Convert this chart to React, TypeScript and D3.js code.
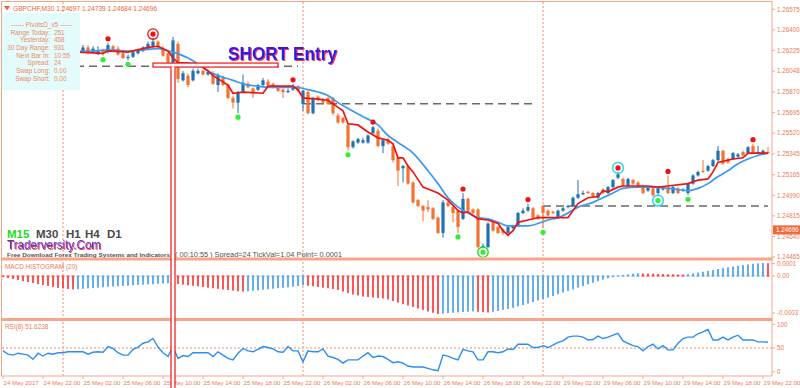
import React from "react";
import * as d3 from "d3";

// GBPCHF M30, one entry per candle: 24 May 18:00 ... 29 May 22:30
const open = [
  1.2621, 1.2624, 1.2621, 1.2625, 1.2627, 1.2623, 1.2620, 1.2622, 1.2626, 1.2623,
  1.2619, 1.2622, 1.2625, 1.2622, 1.2624, 1.2621, 1.2622, 1.2625, 1.2621, 1.2619,
  1.2622, 1.2621, 1.2626, 1.2624, 1.2620, 1.2616, 1.2617, 1.2620, 1.2622, 1.2624,
  1.2626, 1.2630, 1.2624, 1.2620, 1.2612, 1.2628, 1.2597, 1.2601, 1.2597, 1.2603,
  1.2605, 1.2602, 1.2603, 1.2593, 1.2599, 1.2593, 1.2582, 1.2578, 1.2587, 1.2594,
  1.2590, 1.2589, 1.2593, 1.2596, 1.2594, 1.2591, 1.2589, 1.2587, 1.2589, 1.2592,
  1.2577, 1.2587, 1.2569, 1.2583, 1.2581, 1.2582, 1.2582, 1.2567, 1.2565, 1.2559,
  1.2540, 1.2544, 1.2544, 1.2544, 1.2552, 1.2554, 1.2541, 1.2547, 1.2541, 1.2531,
  1.2522, 1.2524, 1.2510, 1.2495, 1.2490, 1.2489, 1.2488, 1.2480, 1.2467, 1.2493,
  1.2489, 1.2486, 1.2479, 1.2496, 1.2487, 1.2487, 1.2455, 1.2455, 1.2476, 1.2472,
  1.2470, 1.2467, 1.2471, 1.2473, 1.2484, 1.2486, 1.2488, 1.2482, 1.2490, 1.2486,
  1.2485, 1.2480, 1.2486, 1.2489, 1.2490, 1.2497, 1.2500, 1.2502, 1.2501, 1.2497,
  1.2504, 1.2501, 1.2506, 1.2514, 1.2513, 1.2507, 1.2512, 1.2510, 1.2507, 1.2503,
  1.2505, 1.2501, 1.2504, 1.2506, 1.2501, 1.2505, 1.2503, 1.2501, 1.2509, 1.2516,
  1.2520, 1.2520, 1.2524, 1.2529, 1.2537, 1.2530, 1.2530, 1.2532, 1.2536, 1.2535,
  1.2541, 1.2535, 1.2535, 1.2536,
];
const high = [
  1.2626, 1.2627, 1.2626, 1.2629, 1.2629, 1.2625, 1.2624, 1.2628, 1.2628, 1.2625,
  1.2624, 1.2627, 1.2627, 1.2626, 1.2626, 1.2627, 1.2627, 1.2627, 1.2626, 1.2626,
  1.2624, 1.2629, 1.2627, 1.2626, 1.2621, 1.2619, 1.2622, 1.2624, 1.2626, 1.2630,
  1.2633, 1.2631, 1.2626, 1.2621, 1.2634, 1.2630, 1.2605, 1.2603, 1.2607, 1.2607,
  1.2606, 1.2606, 1.2605, 1.2603, 1.2601, 1.2594, 1.2584, 1.2588, 1.2602, 1.2596,
  1.2591, 1.2594, 1.2599, 1.2598, 1.2595, 1.2592, 1.2590, 1.2590, 1.2594, 1.2593,
  1.2589, 1.2588, 1.2583, 1.2584, 1.2582, 1.2583, 1.2583, 1.2569, 1.2566, 1.2560,
  1.2546, 1.2548, 1.2548, 1.2551, 1.2558, 1.2556, 1.2547, 1.2548, 1.2543, 1.2532,
  1.2525, 1.2525, 1.2511, 1.2496, 1.2491, 1.2495, 1.2489, 1.2481, 1.2495, 1.2496,
  1.2490, 1.2487, 1.2501, 1.2497, 1.2488, 1.2488, 1.2458, 1.2476, 1.2477, 1.2473,
  1.2471, 1.2473, 1.2474, 1.2485, 1.2488, 1.2492, 1.2489, 1.2483, 1.2491, 1.2487,
  1.2486, 1.2487, 1.2489, 1.2491, 1.2498, 1.2512, 1.2503, 1.2503, 1.2502, 1.2502,
  1.2505, 1.2507, 1.2513, 1.2519, 1.2514, 1.2514, 1.2513, 1.2511, 1.2508, 1.2507,
  1.2506, 1.2506, 1.2507, 1.2516, 1.2507, 1.2506, 1.2505, 1.2510, 1.2517, 1.2520,
  1.2529, 1.2525, 1.2530, 1.2541, 1.2538, 1.2531, 1.2536, 1.2535, 1.2537, 1.2541,
  1.2543, 1.2541, 1.2538, 1.2540,
];
const low = [
  1.2619, 1.2620, 1.2620, 1.2623, 1.2622, 1.2618, 1.2617, 1.2621, 1.2621, 1.2617,
  1.2617, 1.2620, 1.2620, 1.2621, 1.2619, 1.2620, 1.2621, 1.2619, 1.2620, 1.2619,
  1.2618, 1.2620, 1.2621, 1.2618, 1.2615, 1.2614, 1.2616, 1.2619, 1.2621, 1.2623,
  1.2625, 1.2624, 1.2617, 1.2611, 1.2611, 1.2595, 1.2596, 1.2591, 1.2596, 1.2602,
  1.2601, 1.2601, 1.2593, 1.2587, 1.2592, 1.2581, 1.2573, 1.2569, 1.2586, 1.2590,
  1.2582, 1.2588, 1.2592, 1.2592, 1.2590, 1.2587, 1.2582, 1.2586, 1.2588, 1.2587,
  1.2571, 1.2568, 1.2568, 1.2579, 1.2577, 1.2576, 1.2567, 1.2560, 1.2560, 1.2537,
  1.2539, 1.2543, 1.2543, 1.2543, 1.2551, 1.2540, 1.2535, 1.2542, 1.2527, 1.2507,
  1.2510, 1.2508, 1.2492, 1.2489, 1.2477, 1.2485, 1.2478, 1.2466, 1.2463, 1.2489,
  1.2476, 1.2467, 1.2478, 1.2485, 1.2483, 1.2454, 1.2454, 1.2454, 1.2468, 1.2466,
  1.2465, 1.2466, 1.2470, 1.2472, 1.2483, 1.2485, 1.2479, 1.2478, 1.2471, 1.2481,
  1.2483, 1.2479, 1.2485, 1.2488, 1.2489, 1.2496, 1.2499, 1.2500, 1.2497, 1.2496,
  1.2500, 1.2500, 1.2505, 1.2513, 1.2506, 1.2506, 1.2508, 1.2506, 1.2500, 1.2502,
  1.2498, 1.2498, 1.2503, 1.2500, 1.2500, 1.2500, 1.2502, 1.2499, 1.2508, 1.2515,
  1.2518, 1.2519, 1.2523, 1.2528, 1.2525, 1.2526, 1.2529, 1.2531, 1.2532, 1.2534,
  1.2534, 1.2534, 1.2534, 1.2534,
];
const close = [
  1.2624, 1.2621, 1.2625, 1.2627, 1.2623, 1.2620, 1.2622, 1.2626, 1.2623, 1.2619,
  1.2622, 1.2625, 1.2622, 1.2624, 1.2621, 1.2625, 1.2625, 1.2621, 1.2624, 1.2622,
  1.2621, 1.2627, 1.2622, 1.2619, 1.2616, 1.2617, 1.2621, 1.2622, 1.2625, 1.2628,
  1.2630, 1.2625, 1.2618, 1.2612, 1.2631, 1.2598, 1.2603, 1.2593, 1.2605, 1.2605,
  1.2602, 1.2604, 1.2594, 1.2601, 1.2593, 1.2582, 1.2578, 1.2587, 1.2595, 1.2591,
  1.2587, 1.2593, 1.2597, 1.2593, 1.2591, 1.2588, 1.2587, 1.2588, 1.2592, 1.2588,
  1.2588, 1.2569, 1.2582, 1.2580, 1.2578, 1.2577, 1.2569, 1.2561, 1.2561, 1.2540,
  1.2545, 1.2547, 1.2546, 1.2550, 1.2557, 1.2541, 1.2546, 1.2543, 1.2529, 1.2520,
  1.2524, 1.2509, 1.2493, 1.2490, 1.2486, 1.2487, 1.2479, 1.2467, 1.2493, 1.2490,
  1.2484, 1.2472, 1.2496, 1.2486, 1.2484, 1.2455, 1.2456, 1.2475, 1.2469, 1.2467,
  1.2467, 1.2472, 1.2473, 1.2484, 1.2486, 1.2489, 1.2480, 1.2479, 1.2484, 1.2482,
  1.2484, 1.2486, 1.2488, 1.2490, 1.2497, 1.2500, 1.2501, 1.2501, 1.2498, 1.2501,
  1.2501, 1.2506, 1.2512, 1.2517, 1.2507, 1.2513, 1.2509, 1.2507, 1.2501, 1.2506,
  1.2499, 1.2505, 1.2506, 1.2501, 1.2506, 1.2501, 1.2504, 1.2509, 1.2516, 1.2519,
  1.2519, 1.2524, 1.2529, 1.2537, 1.2526, 1.2527, 1.2535, 1.2534, 1.2533, 1.2540,
  1.2535, 1.2536, 1.2537, 1.2535,
];

// red (fast) and blue (slow) moving averages, read at these bars
const redMaIdx = [
  15, 20, 21, 25, 29, 31, 33, 34, 35, 39, 41, 42, 45, 46, 48, 52, 53, 58, 59, 60,
  63, 65, 66, 67, 68, 69, 71, 73, 75, 77, 78, 79, 80, 81, 82, 84, 87, 89, 91, 92,
  93, 95, 97, 99, 100, 101, 102, 103, 105, 107, 113, 114, 115, 117, 119, 120, 121, 123, 124, 129,
  131, 133, 137, 139, 141, 142, 143, 146, 148, 149, 153,
];
const redMa = [
  1.2621, 1.2620, 1.2622, 1.2621, 1.2625, 1.2626, 1.2622, 1.2616, 1.2612, 1.2611,
  1.2605, 1.2601, 1.2593, 1.2586, 1.2587, 1.2586, 1.2592, 1.2592, 1.2589, 1.2582,
  1.2581, 1.2580, 1.2577, 1.2574, 1.2571, 1.2560, 1.2559, 1.2553, 1.2548, 1.2546,
  1.2543, 1.2531, 1.2531, 1.2524, 1.2519, 1.2506, 1.2501, 1.2495, 1.2486, 1.2484,
  1.2485, 1.2479, 1.2478, 1.2475, 1.2469, 1.2465, 1.2469, 1.2476, 1.2478, 1.2480,
  1.2480, 1.2486, 1.2492, 1.2497, 1.2498, 1.2503, 1.2502, 1.2506, 1.2507, 1.2507,
  1.2506, 1.2507, 1.2509, 1.2512, 1.2513, 1.2519, 1.2527, 1.2530, 1.2531, 1.2535,
  1.2535,
];
const blueMaIdx = [
  15, 18, 21, 25, 28, 31, 33, 34, 37, 39, 41, 43, 46, 48, 51, 53, 59, 60, 63, 65,
  67, 69, 72, 75, 77, 79, 82, 85, 87, 89, 91, 93, 95, 97, 99, 101, 105, 107, 109, 111,
  113, 115, 118, 120, 122, 124, 127, 130, 133, 135, 137, 139, 141, 143, 145, 147, 149, 151, 153,
];
const blueMa = [
  1.2622, 1.2622, 1.2623, 1.2622, 1.2623, 1.2624, 1.2622, 1.2621, 1.2616, 1.2611,
  1.2605, 1.2601, 1.2597, 1.2594, 1.2592, 1.2591, 1.2591, 1.2590, 1.2587, 1.2584,
  1.2578, 1.2573, 1.2566, 1.2559, 1.2550, 1.2544, 1.2535, 1.2520, 1.2509, 1.2497,
  1.2489, 1.2484, 1.2480, 1.2479, 1.2476, 1.2473, 1.2473, 1.2475, 1.2478, 1.2480,
  1.2484, 1.2489, 1.2493, 1.2497, 1.2501, 1.2505, 1.2506, 1.2506, 1.2505, 1.2504,
  1.2503, 1.2505, 1.2509, 1.2515, 1.2520, 1.2526, 1.2530, 1.2533, 1.2535,
];

const macd = [
  -0.08e-4, -0.16e-4, -0.24e-4, -0.32e-4, -0.41e-4, -0.49e-4, -0.57e-4, -0.65e-4, -0.73e-4, -0.81e-4,
  -0.89e-4, -0.97e-4, -1.01e-4, -1.05e-4, -1.09e-4, -1.07e-4, -1.04e-4, -1.0e-4, -0.97e-4, -0.94e-4,
  -0.91e-4, -0.87e-4, -0.85e-4, -0.83e-4, -0.8e-4, -0.78e-4, -0.75e-4, -0.73e-4, -0.7e-4, -0.68e-4,
  -0.66e-4, -0.63e-4, -0.61e-4, -0.58e-4, -0.61e-4, -0.65e-4, -0.7e-4, -0.75e-4, -0.79e-4, -0.84e-4,
  -0.89e-4, -0.94e-4, -0.99e-4, -1.04e-4, -1.09e-4, -1.13e-4, -1.18e-4, -1.23e-4, -1.26e-4, -1.23e-4,
  -1.19e-4, -1.15e-4, -1.11e-4, -1.07e-4, -1.03e-4, -0.99e-4, -0.95e-4, -0.91e-4, -0.86e-4, -0.81e-4,
  -0.76e-4, -0.79e-4, -0.84e-4, -0.89e-4, -0.94e-4, -0.99e-4, -1.05e-4, -1.13e-4, -1.26e-4, -1.38e-4,
  -1.5e-4, -1.58e-4, -1.66e-4, -1.7e-4, -1.74e-4, -1.78e-4, -1.82e-4, -1.9e-4, -2.03e-4, -2.15e-4,
  -2.27e-4, -2.39e-4, -2.51e-4, -2.63e-4, -2.75e-4, -2.88e-4, -2.98e-4, -3.08e-4, -3.05e-4, -3.01e-4,
  -2.98e-4, -2.95e-4, -2.92e-4, -2.89e-4, -2.87e-4, -2.9e-4, -2.93e-4, -2.96e-4, -2.9e-4, -2.84e-4,
  -2.75e-4, -2.67e-4, -2.58e-4, -2.47e-4, -2.35e-4, -2.23e-4, -2.11e-4, -1.98e-4, -1.86e-4, -1.74e-4,
  -1.62e-4, -1.48e-4, -1.34e-4, -1.22e-4, -1.08e-4, -0.94e-4, -0.81e-4, -0.68e-4, -0.55e-4, -0.42e-4,
  -0.29e-4, -0.18e-4, -0.08e-4, 0.02e-4, 0.08e-4, 0.13e-4, 0.18e-4, 0.23e-4, 0.21e-4, 0.2e-4,
  0.19e-4, 0.17e-4, 0.16e-4, 0.15e-4, 0.14e-4, 0.12e-4, 0.11e-4, 0.15e-4, 0.21e-4, 0.28e-4,
  0.35e-4, 0.42e-4, 0.49e-4, 0.57e-4, 0.64e-4, 0.71e-4, 0.78e-4, 0.83e-4, 0.89e-4, 0.94e-4,
  0.99e-4, 1.03e-4, 1.06e-4, 1.04e-4,
];

const rsi = [
  44, 37, 35, 39, 37, 35, 26, 39, 33, 39,
  37, 40, 40, 42, 42, 42, 42, 37, 41, 42,
  41, 53, 49, 40, 35, 35, 47, 52, 60, 63,
  70, 52, 40, 32, 53, 28, 34, 32, 40, 40,
  40, 40, 32, 42, 35, 28, 25, 39, 49, 44,
  42, 47, 53, 51, 48, 42, 41, 53, 44, 44,
  21, 44, 42, 42, 48, 33, 30, 26, 18, 25,
  25, 25, 33, 40, 30, 33, 32, 26, 19, 21,
  18, 12, 10, 10, 10, 7, 4, 2, 35, 33,
  28, 25, 47, 44, 42, 25, 25, 42, 42, 40,
  42, 48, 47, 58, 58, 58, 51, 51, 55, 51,
  56, 62, 65, 73, 75, 75, 73, 67, 68, 75,
  70, 73, 77, 81, 65, 60, 55, 53, 44, 53,
  58, 48, 55, 46, 46, 60, 70, 73, 73, 80,
  84, 89, 67, 67, 73, 67, 73, 77, 67, 67,
  67, 63, 63, 62,
];

const sellSignals = [21, 30, 58, 74, 92, 105, 123, 133, 150];
const buySignals = [20, 25, 47, 69, 91, 96, 108, 131, 137];
const circledSell = [30];
const circledBuy = [96];
const cyanCircles = [123, 131];

// daily open lines
const dayStart = [12, 60, 108];
const dayEnd = [59, 106, 153];
const dayOpen = [1.2609, 1.2577, 1.2490];

const entryPrice = 1.2610;
const entryFrom = 30;
const entryTo = 55;
const entryBar = 34;

const timeLabels = [
  "24 May 2017", "24 May 22:00", "25 May 02:00", "25 May 06:00", "25 May 10:00",
  "25 May 14:00", "25 May 18:00", "25 May 22:00", "26 May 02:00", "26 May 06:00",
  "26 May 10:00", "26 May 14:00", "26 May 18:00", "26 May 22:00", "29 May 02:00",
  "29 May 06:00", "29 May 10:00", "29 May 14:00", "29 May 18:00", "29 May 22:00",
];
const priceTicks = [
  1.26575, 1.264, 1.26225, 1.26048, 1.2587, 1.25695, 1.2552, 1.25345, 1.25165,
  1.2499, 1.24815, 1.2464, 1.24465,
];
const macdTicks = [0.0001, 0, -0.0003];
const macdTickLabels = ["0.0001", "0.00", "-0.0003"];
const rsiTicks = [100, 50, 0];

const pivotLabels = ["Range Today:", "Yesterday:", "30 Day Range:", "Next Bar In:", "Spread:", "Swap Long:", "Swap Short:"];
const pivotValues = ["251", "458", "931", "10:55", "24", "0.00", "0.00"];
const timeframes = ["M15", "M30", "H1", "H4", "D1"];

const font = "'Liberation Sans', Arial, sans-serif";
const salmon = "#f8a68a";
const axisText = "#ec7a55";
const bullColor = "#1f72b4";
const bearColor = "#f5712f";

export default function App() {
  const n = close.length;
  const x = d3.scaleLinear().domain([0, n - 1]).range([3, 768]);
  const y = d3.scaleLinear().domain([1.24465, 1.26575]).range([257, 9.3]);
  const yM = d3.scaleLinear().domain([-0.0003, 0.0001]).range([313, 263.7]);
  const yR = d3.scaleLinear().domain([0, 100]).range([371.7, 324.3]);

  const redPath = d3.line<number>().x((_, k) => x(redMaIdx[k])).y((v) => y(v))(redMa) ?? "";
  const bluePath =
    d3.line<number>().x((_, k) => x(blueMaIdx[k])).y((v) => y(v)).curve(d3.curveMonotoneX)(blueMa) ?? "";
  const rsiPath = d3.line<number>().x((_, i) => x(i)).y((v) => yR(v))(rsi) ?? "";

  // histogram colour: blue while rising, red while falling
  const macdColors: string[] = [];
  macd.forEach((v, i) => {
    if (i === 0) macdColors.push("#ff2b2b");
    else if (v > macd[i - 1]) macdColors.push("#3d9be9");
    else if (v < macd[i - 1]) macdColors.push("#ff2b2b");
    else macdColors.push(macdColors[i - 1]);
  });

  const daySeps = [12, 60, 108];
  const tickIdx = timeLabels.map((_, k) => k * 8);

  return (
    <svg
      width={800}
      height={388}
      style={{ position: "fixed", left: 0, top: 0, background: "#fff", fontFamily: font }}
    >
      <defs>
        <clipPath id="mainClip">
          <rect x={2} y={2} width={770} height={255.5} />
        </clipPath>
        <filter id="redEdge" x="-5%" y="-20%" width="110%" height="140%">
          <feDropShadow dx={0.9} dy={0.9} stdDeviation={0.2} floodColor="#ff2020" floodOpacity={1} />
        </filter>
      </defs>

      {/* day separators */}
      {daySeps.map((i) => (
        <line key={"sep" + i} x1={x(i)} x2={x(i)} y1={2} y2={376} stroke="#f28b6b" strokeWidth={1} strokeDasharray="2,2" />
      ))}

      <g clipPath="url(#mainClip)">
        {/* daily open levels */}
        {dayOpen.map((p, k) => (
          <line
            key={"do" + k}
            x1={x(dayStart[k])}
            x2={x(dayEnd[k])}
            y1={y(p)}
            y2={y(p)}
            stroke="#6a6a6a"
            strokeWidth={1.4}
            strokeDasharray="8,5"
          />
        ))}

        {/* candles */}
        {close.map((c, i) => {
          const o = open[i];
          const col = c >= o ? bullColor : bearColor;
          const top = y(Math.max(o, c));
          const bot = y(Math.min(o, c));
          return (
            <g key={"c" + i}>
              <line x1={x(i)} x2={x(i)} y1={y(high[i])} y2={y(low[i])} stroke={col} strokeWidth={1} />
              <rect x={x(i) - 1.6} y={top} width={3.2} height={Math.max(1, bot - top)} fill={col} />
            </g>
          );
        })}

        <path d={bluePath} fill="none" stroke="#3a9af0" strokeWidth={1.7} />
        <path d={redPath} fill="none" stroke="#ee1414" strokeWidth={1.7} />

        {sellSignals.map((i) => (
          <circle key={"s" + i} cx={x(i)} cy={y(high[i]) - 4} r={2.6} fill="#ee1111" />
        ))}
        {buySignals.map((i) => (
          <circle key={"b" + i} cx={x(i)} cy={y(low[i]) + 4} r={2.6} fill="#33ee33" />
        ))}
        {circledSell.map((i) => (
          <circle key={"cs" + i} cx={x(i)} cy={y(high[i]) - 4} r={5.2} fill="none" stroke="#ee1111" strokeWidth={1.3} />
        ))}
        {circledBuy.map((i) => (
          <circle key={"cb" + i} cx={x(i)} cy={y(low[i]) + 4} r={5.2} fill="none" stroke="#22dd22" strokeWidth={1.4} />
        ))}
        {cyanCircles.map((i, k) => (
          <circle
            key={"cc" + i}
            cx={x(i)}
            cy={k === 0 ? y(high[i]) - 4 : y(low[i]) + 4}
            r={5.4}
            fill="none"
            stroke="#2ad8e4"
            strokeWidth={1.5}
          />
        ))}
      </g>

      {/* pivots box */}
      <rect x={2} y={13} width={78} height={77} fill="#e4fbfb" />
      <g fontSize={6.4} fill="#ef8a62">
        <text x={42} y={26.5} textAnchor="middle">------ PivotsD_v5 ------</text>
        {pivotLabels.map((t, k) => (
          <text key={"pl" + k} x={50} y={34.5 + k * 7.7} textAnchor="end">{t}</text>
        ))}
        {pivotValues.map((t, k) => (
          <text key={"pv" + k} x={54} y={34.5 + k * 7.7}>{t}</text>
        ))}
      </g>

      {/* header */}
      <polygon points="4,6 10,6 7,10.5" fill="#e8663a" />
      <text x={13} y={11} fontSize={6.6} fill="#e8663a">
        GBPCHF,M30  1.24697 1.24739 1.24684 1.24696
      </text>

      {/* SHORT Entry annotation */}
      <text
        x={228}
        y={60}
        fontSize={19}
        fontWeight="bold"
        fill="#2424e6"
        textLength={109}
        lengthAdjust="spacingAndGlyphs"
        filter="url(#redEdge)"
      >
        SHORT Entry
      </text>

      {/* bottom-left labels */}
      {timeframes.map((t, k) => (
        <text
          key={"tf" + t}
          x={[7, 36, 66, 85, 107][k]}
          y={237.5}
          fontSize={11.5}
          fontWeight="bold"
          fill={k === 0 ? "#22dd22" : "#4a4a4a"}
        >
          {t}
        </text>
      ))}
      <text
        x={7}
        y={249}
        fontSize={12}
        fill="#2c48dc"
        textLength={94}
        lengthAdjust="spacingAndGlyphs"
        filter="url(#redEdge)"
      >
        Traderversity.Com
      </text>
      <text x={7} y={257} fontSize={5.9} fontWeight="bold" fill="#555" textLength={163} lengthAdjust="spacingAndGlyphs">
        Free Download Forex Trading Systems and Indicators
      </text>
      <text x={175} y={257} fontSize={6.4} fill="#555" textLength={167} lengthAdjust="spacingAndGlyphs">
        ( 00:10:55 )  Spread=24  TickVal=1.04  Point= 0.0001
      </text>

      {/* MACD histogram */}
      {macd.map((v, i) => (
        <g key={"m" + i}>
          <rect
            x={x(i) - 0.8}
            y={Math.min(yM(0), yM(v))}
            width={1.6}
            height={Math.abs(yM(v) - yM(0))}
            fill={macdColors[i]}
          />
          <rect x={x(i) - 1.6} y={yM(0) - 0.5} width={3.2} height={1} fill={macdColors[i]} />
        </g>
      ))}
      <text x={5} y={268.5} fontSize={6.4} fill={axisText}>MACD HISTOGRAM (20)</text>

      {/* RSI */}
      <line x1={2} x2={772} y1={yR(50)} y2={yR(50)} stroke="#f28b6b" strokeDasharray="2,2" strokeWidth={1} />
      <path d={rsiPath} fill="none" stroke="#2b8ff0" strokeWidth={1.4} />
      <text x={5} y={329} fontSize={6.4} fill={axisText}>RSI(8) 51.6238</text>

      {/* frame and panel bands */}
      <rect x={1.5} y={1.5} width={770.5} height={374.5} fill="none" stroke={salmon} strokeWidth={1} />
      <rect x={1} y={257.5} width={771.5} height={3} fill={salmon} />
      <rect x={1} y={318} width={771.5} height={3} fill={salmon} />

      {/* price axis */}
      {priceTicks.map((p) => (
        <g key={"pt" + p}>
          <line x1={772} x2={775} y1={y(p)} y2={y(p)} stroke={salmon} />
          <text x={777} y={y(p) + 2.2} fontSize={6.3} fill={axisText}>{p.toFixed(5)}</text>
        </g>
      ))}
      <rect x={773} y={y(1.24696) - 4.5} width={27} height={9} fill="#f0683c" />
      <text x={776} y={y(1.24696) + 2.2} fontSize={6.3} fill="#fff">1.24696</text>

      {macdTicks.map((v, k) => (
        <g key={"mt" + k}>
          <line x1={772} x2={775} y1={yM(v)} y2={yM(v)} stroke={salmon} />
          <text x={777} y={yM(v) + 2.2} fontSize={6.3} fill={axisText}>{macdTickLabels[k]}</text>
        </g>
      ))}
      {rsiTicks.map((v) => (
        <g key={"rt" + v}>
          <line x1={772} x2={775} y1={yR(v)} y2={yR(v)} stroke={salmon} />
          <text x={777} y={yR(v) + 2.2} fontSize={6.3} fill={axisText}>{v}</text>
        </g>
      ))}

      {/* time axis */}
      {timeLabels.map((t, k) => (
        <g key={"tl" + k}>
          <line x1={x(tickIdx[k])} x2={x(tickIdx[k])} y1={376} y2={379} stroke={salmon} />
          <text x={x(tickIdx[k]) + 0.5} y={384.5} fontSize={6.1} fill={axisText}>{t}</text>
        </g>
      ))}

      {/* entry marker */}
      <rect
        x={x(entryBar) - 2}
        y={y(entryPrice)}
        width={4}
        height={392 - y(entryPrice)}
        fill="#fff"
        stroke="#ee1111"
        strokeWidth={1.2}
      />
      <rect
        x={x(entryFrom)}
        y={y(entryPrice) - 2}
        width={x(entryTo) - x(entryFrom)}
        height={4}
        fill="#fff"
        stroke="#ee1111"
        strokeWidth={1.2}
      />
      <rect x={x(entryBar) - 1.4} y={y(entryPrice) + 1.4} width={2.8} height={2} fill="#fff" />
    </svg>
  );
}
